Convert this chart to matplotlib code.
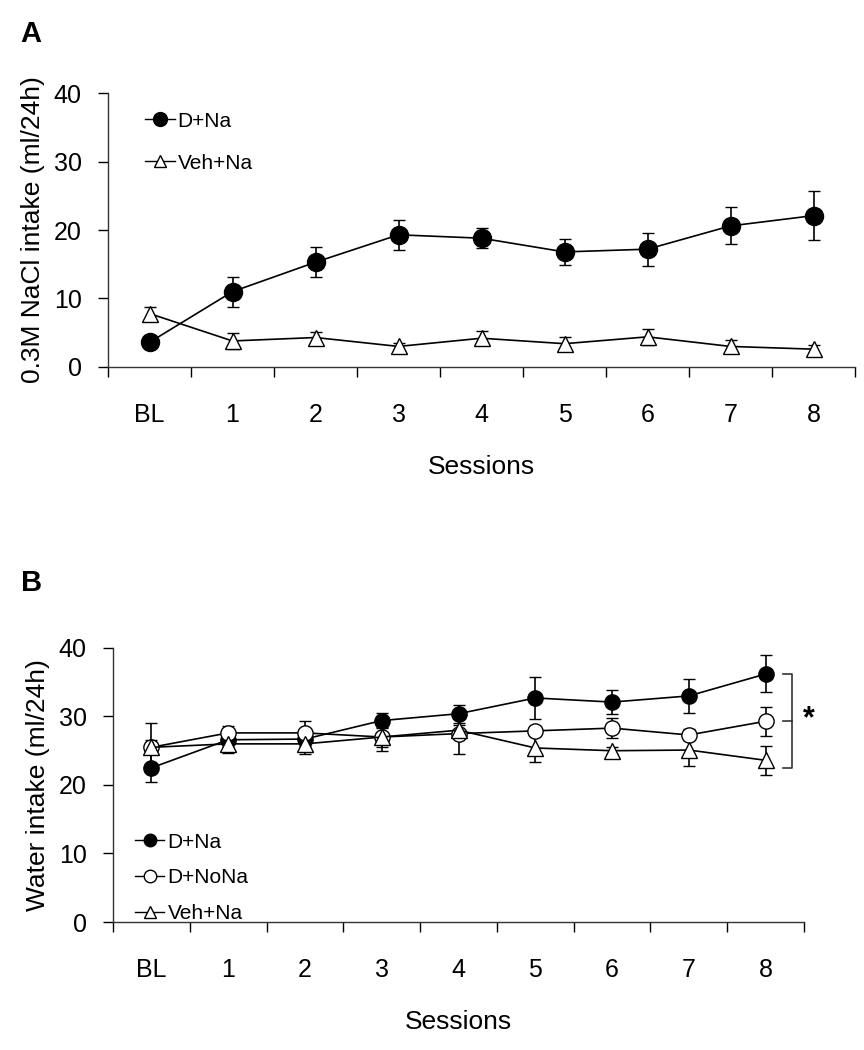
import matplotlib
matplotlib.use("Agg")
import matplotlib.pyplot as plt
from matplotlib.lines import Line2D
import numpy as np

plt.rcParams['font.family'] = ['Liberation Sans', 'DejaVu Sans']

# Sessions
sessions = ['BL', '1', '2', '3', '4', '5', '6', '7', '8']

# Panel A: 0.3M NaCl intake (ml/24h)
a_dna = [3.6, 11.0, 15.3, 19.3, 18.8, 16.8, 17.2, 20.6, 22.1]
a_dna_err = [0.8, 2.2, 2.2, 2.2, 1.5, 1.9, 2.4, 2.7, 3.6]
a_veh = [7.8, 3.8, 4.3, 3.0, 4.2, 3.4, 4.4, 3.0, 2.6]
a_veh_err = [1.0, 1.2, 0.8, 0.5, 1.0, 1.0, 1.2, 0.9, 0.6]

# Panel B: water intake (ml/24h)
b_dna = [22.5, 26.6, 26.7, 29.4, 30.4, 32.7, 32.1, 33.0, 36.2]
b_dna_err = [2.0, 1.0, 1.0, 1.1, 1.3, 3.0, 1.7, 2.5, 2.7]
b_dnona = [25.5, 27.6, 27.6, 27.0, 27.5, 27.9, 28.3, 27.3, 29.3]
b_dnona_err = [3.6, 1.0, 1.7, 1.5, 3.0, 0.7, 1.5, 0.8, 2.1]
b_veh = [25.5, 26.0, 26.0, 27.0, 28.0, 25.4, 25.0, 25.1, 23.6]
b_veh_err = [1.0, 1.3, 1.5, 2.0, 0.8, 2.0, 0.5, 2.4, 2.1]

x = np.arange(len(sessions))

fig = plt.figure(figsize=(8.64, 10.5), dpi=100)
axA = fig.add_axes([0.125, 0.6505, 0.8646, 0.2609])
axB = fig.add_axes([0.1308, 0.1219, 0.7998, 0.2610])


def series(ax, y, err, marker, face, ms):
    ax.errorbar(x, y, yerr=err, color='black', lw=1.2, elinewidth=1.2,
                capsize=4, capthick=1.2, marker=marker, mfc=face, mec='black',
                mew=1.0, ms=ms, zorder=3)


def handle(marker, face, ms):
    return Line2D([], [], color='black', lw=1.0, marker=marker, mfc=face,
                  mec='black', mew=1.0, ms=ms)


def style(ax, ylabel):
    ax.set_xlim(-0.5, len(sessions) - 0.5)
    ax.set_ylim(0, 40)
    ax.set_yticks([0, 10, 20, 30, 40])
    ax.set_xticks(x)
    ax.set_xticklabels(sessions)
    ax.set_xticks(np.arange(-0.5, len(sessions)), minor=True)
    ax.tick_params(axis='x', which='major', length=0, pad=26, labelsize=18)
    ax.tick_params(axis='x', which='minor', length=7, width=1.0, direction='out')
    ax.tick_params(axis='y', length=7, width=1.0, direction='out', labelsize=18, pad=12)
    for s in ['top', 'right']:
        ax.spines[s].set_visible(False)
    for s in ['left', 'bottom']:
        ax.spines[s].set_linewidth(1.0)
        ax.spines[s].set_color('#333333')
    ax.set_ylabel(ylabel, fontsize=19, labelpad=6)
    ax.set_xlabel('Sessions', fontsize=19, labelpad=20)


# Panel A
series(axA, a_dna, a_dna_err, 'o', 'black', 13)
series(axA, a_veh, a_veh_err, '^', 'white', 11)
style(axA, '0.3M NaCl intake (ml/24h)')
axA.legend([handle('o', 'black', 10), handle('^', 'white', 9)], ['D+Na', 'Veh+Na'],
           loc='upper left', bbox_to_anchor=(0.025, 1.0), frameon=False,
           fontsize=15, handlelength=1.4, handletextpad=0.15, labelspacing=1.1)

# Panel B
series(axB, b_dna, b_dna_err, 'o', 'black', 11)
series(axB, b_dnona, b_dnona_err, 'o', 'white', 11)
series(axB, b_veh, b_veh_err, '^', 'white', 11)
style(axB, 'Water intake (ml/24h)')
axB.legend([handle('o', 'black', 9), handle('o', 'white', 9), handle('^', 'white', 9)],
           ['D+Na', 'D+NoNa', 'Veh+Na'],
           loc='lower left', bbox_to_anchor=(0.005, -0.072), frameon=False,
           fontsize=15, handlelength=1.4, handletextpad=0.15, labelspacing=0.8)

# significance bracket at last session
xb = x[-1] + 0.34
top, mid, bot = b_dna[-1], b_dnona[-1], b_veh[-1] - 1.1
axB.plot([xb - 0.12, xb, xb, xb - 0.12], [top, top, bot, bot],
         color='#333333', lw=1.2, clip_on=False)
axB.plot([xb - 0.12, xb], [mid, mid], color='#333333', lw=1.2, clip_on=False)
axB.text(xb + 0.22, mid + 0.3, '*', fontsize=22, fontweight='bold',
         ha='center', va='center', clip_on=False)

fig.text(0.024, 0.968, 'A', fontsize=21, fontweight='bold', ha='left', va='center')
fig.text(0.024, 0.445, 'B', fontsize=21, fontweight='bold', ha='left', va='center')

fig.savefig('out.png', dpi=100)
